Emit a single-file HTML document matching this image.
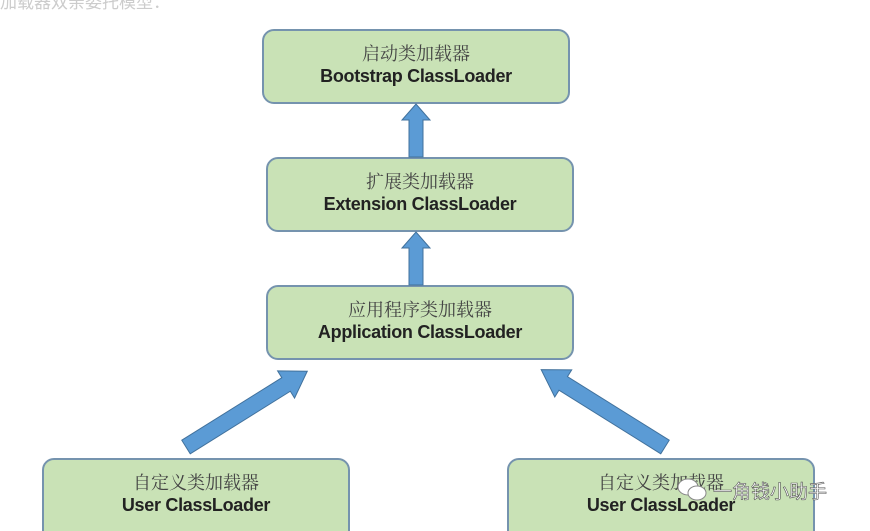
<!DOCTYPE html>
<html><head><meta charset="utf-8"><style>
html,body{margin:0;width:870px;height:531px;overflow:hidden}
body{background:#fff;position:relative;font-family:"Liberation Sans","Noto Sans CJK SC",sans-serif}
.b{position:absolute;box-sizing:border-box;background:#c9e2b6;border:2px solid #7593ae;border-radius:12px;text-align:center;color:#333}
.b .c{font-family:"Noto Serif CJK SC",serif;font-size:18px;line-height:22px;margin-top:11px;color:#444}
.b .e{font-size:18px;line-height:24px;color:#222;font-weight:bold;letter-spacing:-0.3px}
svg{position:absolute;left:0;top:0}
</style></head><body>
<div style="position:absolute;left:0;top:-12px;font-size:17px;color:#ccc">加载器双亲委托模型：</div>
<div class="b" style="left:262px;top:29px;width:308px;height:75px"><div class="c">启动类加载器</div><div class="e">Bootstrap ClassLoader</div></div>
<div class="b" style="left:266px;top:157px;width:308px;height:75px"><div class="c">扩展类加载器</div><div class="e">Extension ClassLoader</div></div>
<div class="b" style="left:266px;top:285px;width:308px;height:75px"><div class="c">应用程序类加载器</div><div class="e">Application ClassLoader</div></div>
<div class="b" style="left:42px;top:458px;width:308px;height:85px"><div class="c">自定义类加载器</div><div class="e">User ClassLoader</div></div>
<div class="b" style="left:507px;top:458px;width:308px;height:85px"><div class="c">自定义类加载器</div><div class="e">User ClassLoader</div></div>
<svg width="870" height="531">
<g fill="#5b9bd5" stroke="#41719c" stroke-width="1">
<polygon points="409,157 409,120 402,120 416,104 430,120 423,120 423,157"/>
<polygon points="409,285 409,248 402,248 416,232 430,248 423,248 423,285"/>
<g transform="translate(186,447) rotate(-32)"><polygon points="0,-8 118,-8 118,-16 143,0 118,16 118,8 0,8"/></g>
<g transform="translate(665,447) rotate(-148)"><polygon points="0,-8 120,-8 120,-16 146,0 120,16 120,8 0,8"/></g>
</g>
<g fill="#fff" stroke="#888" stroke-width="1"><ellipse cx="688" cy="487" rx="10" ry="8"/><ellipse cx="697" cy="493" rx="9" ry="7"/></g>
<text x="713" y="498" font-size="19" fill="#fff" stroke="#555" stroke-width="0.6" font-family="Noto Sans CJK SC,sans-serif">一角钱小助手</text>
</svg>
</body></html>
